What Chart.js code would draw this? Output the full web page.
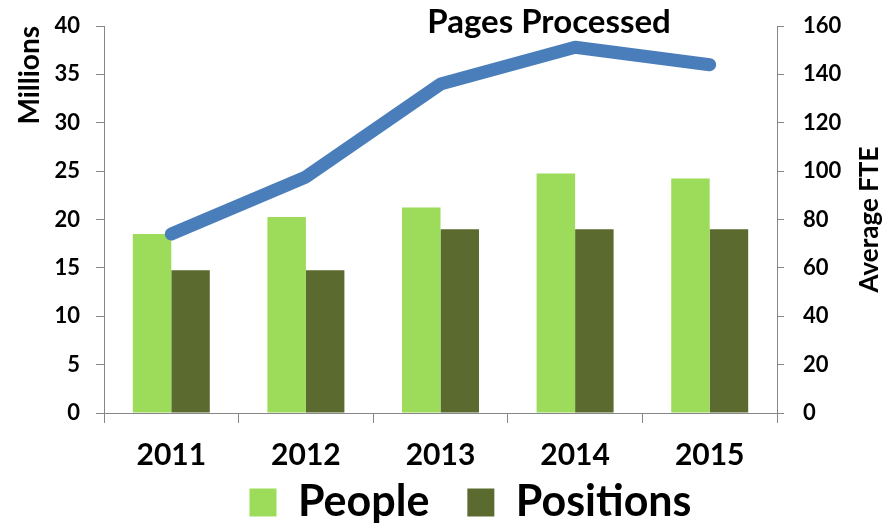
<!DOCTYPE html>
<html>
<head>
<meta charset="utf-8">
<script src="https://cdn.jsdelivr.net/npm/chart.js@4.4.1/dist/chart.umd.min.js"></script>
<style>
  body { margin: 0; background: #fff; }
  #wrap { width: 895px; height: 523px; }
</style>
</head>
<body>
<div id="wrap"><canvas id="myChart" width="895" height="523"></canvas></div>
<script>
const years = ['2011', '2012', '2013', '2014', '2015'];
const pagesProcessed = [18.5, 24.4, 34.0, 37.8, 36.0]; // millions, left axis
const people = [74, 81, 85, 99, 97]; // average FTE, right axis
const positions = [59, 59, 76, 76, 76];

const FONT = 'Lato, "Open Sans", sans-serif';
const AXIS_GREY = '#868686';

// heading over the plot + right axis title (reads bottom to top like the left one)
const extraText = {
  id: 'extraText',
  afterDraw(chart) {
    const ctx = chart.ctx;
    const area = chart.chartArea;
    ctx.save();
    ctx.fillStyle = '#000';
    ctx.font = 'bold 33px ' + FONT;
    ctx.textAlign = 'center';
    ctx.textBaseline = 'alphabetic';
    ctx.fillText('Pages Processed', 549, 33);

    ctx.font = 'bold 26px ' + FONT;
    ctx.textBaseline = 'middle';
    ctx.translate(870, (area.top + area.bottom) / 2);
    ctx.rotate(-Math.PI / 2);
    ctx.fillText('Average FTE', 0, 0);
    ctx.restore();
  }
};

// legend sits a bit right of centre and closer to the axis labels
const legendShift = {
  id: 'legendShift',
  afterLayout(chart) {
    chart.legend.left += 23;
    chart.legend.right += 23;
    chart.legend.top -= 24;
    chart.legend.bottom -= 24;
  }
};

function fixWidth(width) {
  return (scale) => {
    scale.width = width;
    scale.paddingTop = 0;
  };
}

function initChart(target) {
  const data = {
    labels: years,
    datasets: [
      {
        type: 'bar',
        label: 'People',
        data: people,
        yAxisID: 'y1',
        backgroundColor: '#9cdc5a',
        order: 2
      },
      {
        type: 'bar',
        label: 'Positions',
        data: positions,
        yAxisID: 'y1',
        backgroundColor: '#5b6b30',
        order: 2
      },
      {
        type: 'line',
        label: 'Pages Processed',
        data: pagesProcessed,
        yAxisID: 'y',
        borderColor: '#4a7ebb',
        borderWidth: 13,
        borderCapStyle: 'round',
        borderJoinStyle: 'round',
        pointRadius: 0,
        tension: 0,
        order: 1
      }
    ]
  };

  const config = {
    type: 'bar',
    data: data,
    options: {
      responsive: false,
      animation: false,
      devicePixelRatio: 1,
      layout: { padding: { top: 26, left: 0, right: 0, bottom: -35 } },
      datasets: {
        bar: { categoryPercentage: 0.572, barPercentage: 1 }
      },
      plugins: {
        title: { display: false },
        tooltip: { enabled: false },
        legend: {
          position: 'bottom',
          labels: {
            filter: (item) => item.text !== 'Pages Processed',
            boxWidth: 27,
            boxHeight: 28,
            padding: 38,
            color: '#000',
            font: { family: FONT, size: 43, weight: 'bold' }
          }
        }
      },
      scales: {
        x: {
          grid: {
            offset: true,
            drawOnChartArea: false,
            tickLength: 10,
            tickColor: AXIS_GREY
          },
          border: { color: AXIS_GREY, width: 1 },
          ticks: {
            color: '#000',
            padding: 14,
            font: { family: FONT, size: 30, weight: 'bold' }
          },
          afterFit: (scale) => { scale.height = 54; }
        },
        y: {
          position: 'left',
          min: 0,
          max: 40,
          ticks: {
            stepSize: 5,
            color: '#000',
            padding: 16,
            font: { family: FONT, size: 22, weight: 'bold' }
          },
          grid: {
            drawOnChartArea: false,
            tickLength: 8,
            tickColor: AXIS_GREY
          },
          border: { color: AXIS_GREY, width: 1 },
          title: {
            display: true,
            text: 'Millions',
            align: 'end',
            color: '#000',
            padding: { top: 13, bottom: 0 },
            font: { family: FONT, size: 28, weight: 'bold' }
          },
          afterFit: fixWidth(104)
        },
        y1: {
          position: 'right',
          min: 0,
          max: 160,
          ticks: {
            stepSize: 20,
            color: '#000',
            padding: 19,
            font: { family: FONT, size: 22, weight: 'bold' }
          },
          grid: {
            drawOnChartArea: false,
            tickLength: 7,
            tickColor: AXIS_GREY
          },
          border: { color: AXIS_GREY, width: 1 },
          afterFit: fixWidth(118)
        }
      }
    },
    plugins: [extraText, legendShift]
  };

  return new Chart(target, config);
}

document.addEventListener('DOMContentLoaded', () => {
  initChart(document.querySelector('#myChart'));
});
</script>
</body>
</html>
